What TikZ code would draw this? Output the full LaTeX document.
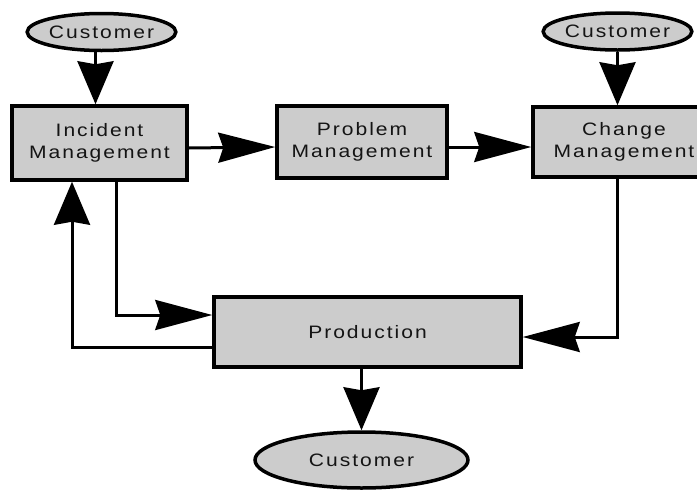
\documentclass[tikz,border=0pt]{standalone}
\usepackage{fontspec}
\setmainfont{Liberation Sans}[FakeStretch=1.17,LetterSpace=11]
\usetikzlibrary{arrows.meta,shapes.geometric}
\definecolor{panel}{RGB}{204,204,204}
\definecolor{ink}{RGB}{20,20,20}
\tikzset{
  proc/.style={rectangle,draw=black,fill=panel,line width=3.5pt,inner sep=0pt,
    minimum width=#1,minimum height=72pt,align=center,text=ink,
    font=\fontsize{18}{22}\selectfont},
  proc/.default=172pt,
  actor/.style={ellipse,draw=black,fill=panel,line width=3.5pt,inner sep=0pt,
    text=ink,font=\fontsize{18}{22}\selectfont},
  hflow/.style={-{Stealth[length=57pt,width=30pt,inset=5pt]},line width=3pt},
  vflow/.style={-{Stealth[length=43pt,width=36pt,inset=3pt]},line width=3pt},
}
\begin{document}
\begin{tikzpicture}[x=1pt,y=-1pt]
  \useasboundingbox (0,0) rectangle (697,491);
  % process boxes
  \node[proc=175pt,minimum height=74pt] (incident) at (99.5,143) {Incident\\Management};
  \node[proc=170pt] (problem) at (362,142) {Problem\\Management};
  \node[proc=182pt,minimum height=70pt] (change) at (624,142) {Change\\Management};
  \node[proc=307pt,minimum height=70pt] (production) at (367.5,332) {Production};
  % customers
  \node[actor,minimum width=137pt,minimum height=37pt] (cust1) at (101.5,32) {Customer};
  \node[actor,minimum width=129pt,minimum height=37pt] (cust2) at (617.5,31.5) {Customer};
  \node[actor,minimum width=213pt,minimum height=56pt] (cust3) at (361.5,460) {Customer};
  % flows
  \draw[vflow] ([xshift=-6pt]cust1.south) -- ([xshift=-6pt]cust1.south |- incident.north);
  \draw[vflow] (cust2) -- (cust2 |- change.north);
  \draw[hflow] ([yshift=-5pt]incident.east) -- ([yshift=-5pt]problem.west);
  \draw[hflow] ([yshift=-5pt]problem.east) -- ([yshift=-5pt]change.west);
  \draw[hflow] ([xshift=16.5pt]incident.south) |- ([yshift=17pt]production.west);
  \draw[vflow] ([yshift=-15pt]production.west) -| ([xshift=-27.5pt]incident.south);
  \draw[hflow] ([xshift=-7pt]change.south) |- ([yshift=-5pt]production.east);
  \draw[vflow] (production.south -| cust3) -- (cust3.north);
\end{tikzpicture}
\end{document}
